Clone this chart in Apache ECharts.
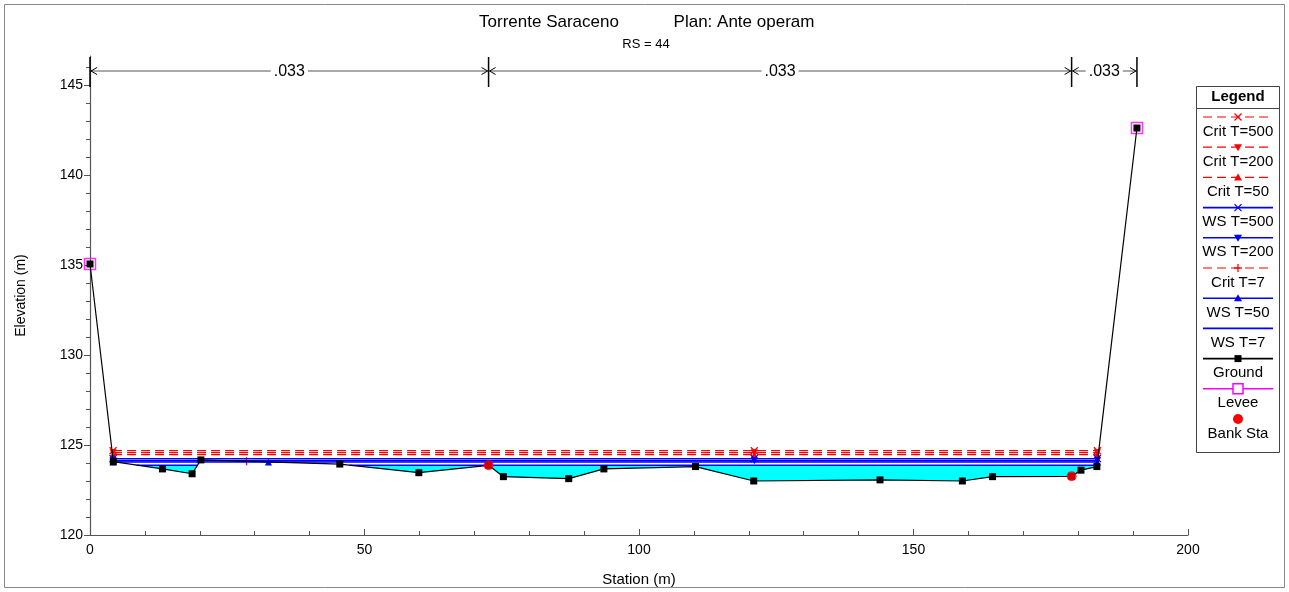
<!DOCTYPE html>
<html><head><meta charset="utf-8">
<script src="https://cdn.jsdelivr.net/npm/echarts@6/dist/echarts.min.js"></script>
<style>html,body{margin:0;padding:0;background:#fff}#c{width:1289px;height:592px}</style>
</head><body><div id="c"></div>
<script>
// ---------- data ----------
const groundSta  = [0, 4.25, 13.2, 18.6, 20.2, 45.5, 59.9, 72.6, 75.3, 87.2, 93.6, 110.3, 120.9, 143.9, 158.9, 164.4, 178.8, 180.5, 183.4, 190.7];
const groundElev = [135.05, 124.07, 123.67, 123.4, 124.17, 123.94, 123.46, 123.87, 123.24, 123.13, 123.67, 123.8, 123.0, 123.06, 123.0, 123.24, 123.26, 123.6, 123.8, 142.6];
const leveeSta  = [0, 190.7];
const leveeElev = [135.05, 142.6];
const bankSta  = [72.6, 178.8];
const bankElev = [123.87, 123.26];
const profileNames = ['Crit T=500', 'Crit T=200', 'Crit T=50', 'WS T=500', 'WS T=200', 'Crit T=7', 'WS T=50', 'WS T=7'];
const profileElev  = [124.68, 124.57, 124.46, 124.24, 124.13, 124.09, 124.06, 123.88];
const profileExtent = [
  [4.2, 183.5], [4.2, 183.5], [4.2, 183.5], [4.2, 183.5], [4.2, 183.5],
  [27.9, 30.4], [4.2, 183.5], []
];
const profileMarkerSta = [
  [4.2, 121, 183.5],
  [4.2, 121, 183.5],
  [4.2, 121, 183.5],
  [4.2, 121, 183.5],
  [4.2, 121, 183.5],
  [28.5],
  [4.2, 32.5, 183.5],
  []
];
const nBreakSta = [0, 72.6, 178.8, 190.7];
const nValues   = ['.033', '.033', '.033'];
const yTicks = [120, 125, 130, 135, 140, 145];
const yMinorTicks = [121,122,123,124,126,127,128,129,131,132,133,134,136,137,138,139,141,142,143,144,146];
const titleMain = 'Torrente Saraceno';
const titlePlan = 'Plan: Ante operam';
const subTitle = 'RS = 44';

// ---------- styles ----------
const FONT = '"Liberation Sans", Arial, sans-serif';
const RED = '#ff0000', BLUE = '#0000ff';
const styleOf = {
  'Crit T=500': {c: RED, dash: true, m: 'x'},
  'Crit T=200': {c: RED, dash: true, m: 'tdown'},
  'Crit T=50':  {c: RED, dash: true, m: 'tup'},
  'WS T=500':   {c: BLUE, dash: false, m: 'x'},
  'WS T=200':   {c: BLUE, dash: false, m: 'tdown'},
  'Crit T=7':   {c: RED, dash: true, m: 'plus'},
  'WS T=50':    {c: BLUE, dash: false, m: 'tup'},
  'WS T=7':     {c: BLUE, dash: false, m: null},
  'Ground':     {c: '#000', dash: false, m: 'sq', line: true},
  'Levee':      {c: '#ff00ff', dash: false, m: 'esq', line: true},
  'Bank Sta':   {c: RED, dash: false, m: 'circle', line: false}
};
const symbolOf = {
  x: {symbol: 'path://M0,0L10,10M10,0L0,10', rot: 0, size: 7},
  tdown: {symbol: 'triangle', rot: 180, size: 7},
  tup: {symbol: 'triangle', rot: 0, size: 7},
  plus: {symbol: 'path://M5,0L5,10M0,5L10,5', rot: 0, size: 8}
};

// ---------- wetted area of the lowest profile ----------
function wetted(sta, elev, ws) {
  const pts = [], segs = [];
  let start = null;
  for (let i = 0; i < sta.length; i++) {
    if (i > 0) {
      const x0 = sta[i-1], g0 = elev[i-1], x1 = sta[i], g1 = elev[i];
      if ((g0 - ws) * (g1 - ws) < 0) {
        const xc = x0 + (ws - g0) / (g1 - g0) * (x1 - x0);
        pts.push([xc, ws]);
        if (g1 < ws) start = xc; else { segs.push([start, xc]); start = null; }
      }
    }
    pts.push([sta[i], Math.min(elev[i], ws)]);
  }
  return {pts, segs};
}
const wsLow = profileElev[profileNames.indexOf('WS T=7')];
const wet = wetted(groundSta, groundElev, wsLow);

// ---------- series ----------
const series = [];
series.push({
  type: 'custom', z: 1, silent: true, clip: false,
  data: [[0, wsLow]],
  renderItem: function (params, api) {
    const poly = wet.pts.map(p => api.coord(p));
    const children = [{type: 'polygon', shape: {points: poly}, style: {fill: '#00ffff', stroke: null}}];
    wet.segs.forEach(s => {
      const a = api.coord([s[0], wsLow]), b = api.coord([s[1], wsLow]);
      children.push({type: 'line', shape: {x1: a[0], y1: a[1], x2: b[0], y2: b[1]}, style: {stroke: BLUE, lineWidth: 1.5}});
    });
    return {type: 'group', children};
  }
});
profileNames.forEach((name, i) => {
  if (name === 'WS T=7') return;
  const st = styleOf[name];
  const sym = symbolOf[st.m];
  const stations = Array.from(new Set(profileExtent[i].concat(profileMarkerSta[i]))).sort((a, b) => a - b);
  series.push({
    type: 'line', name, z: st.dash ? 2 : 3, silent: true,
    data: stations.map(s => ({
      value: [s, profileElev[i]],
      symbol: profileMarkerSta[i].indexOf(s) >= 0 ? sym.symbol : 'none'
    })),
    symbol: sym.symbol, symbolRotate: sym.rot, symbolSize: sym.size, showSymbol: true,
    lineStyle: {color: st.c, width: st.dash ? 1.2 : 1.5, type: st.dash ? [9, 5] : 'solid'},
    itemStyle: {color: st.c, borderColor: st.c, borderWidth: st.m === 'x' || st.m === 'plus' ? 1.3 : 0}
  });
});
series.push({
  type: 'scatter', name: 'Levee', z: 4, silent: true,
  data: leveeSta.map((s, i) => [s, leveeElev[i]]),
  symbol: 'rect', symbolSize: 11,
  itemStyle: {color: 'rgba(0,0,0,0)', borderColor: '#ff00ff', borderWidth: 1.5}
});
series.push({
  type: 'line', name: 'Ground', z: 5, silent: true,
  data: groundSta.map((s, i) => [s, groundElev[i]]),
  symbol: 'rect', symbolSize: 7, showSymbol: true,
  lineStyle: {color: '#000', width: 1.2},
  itemStyle: {color: '#000'}
});
series.push({
  type: 'scatter', name: 'Bank Sta', z: 6, silent: true,
  data: bankSta.map((s, i) => [s, bankElev[i]]),
  symbol: 'circle', symbolSize: 10,
  itemStyle: {color: RED}
});
// Manning's n overlay along the top of the plot
series.push({
  type: 'custom', z: 7, silent: true, clip: false,
  data: nValues.map((v, i) => [nBreakSta[i], nBreakSta[i+1], 130]),
  renderItem: function (params, api) {
    const cs = params.coordSys;
    const x1 = api.coord([api.value(0), 130])[0];
    const x2 = api.coord([api.value(1), 130])[0];
    const y = cs.y + 15, yt = cs.y + 1, yb = cs.y + 31;
    const idx = params.dataIndex;
    const ch = [
      {type: 'line', shape: {x1: x1, y1: y, x2: x2, y2: y}, style: {stroke: '#555', lineWidth: 1}},
      {type: 'polyline', shape: {points: [[x1 + 7, y - 3.5], [x1 + 1, y], [x1 + 7, y + 3.5]]}, style: {stroke: '#000', fill: null, lineWidth: 1}},
      {type: 'polyline', shape: {points: [[x2 - 7, y - 3.5], [x2 - 1, y], [x2 - 7, y + 3.5]]}, style: {stroke: '#000', fill: null, lineWidth: 1}},
      {type: 'line', shape: {x1: x2, y1: yt, x2: x2, y2: yb}, style: {stroke: '#000', lineWidth: 1.5}},
      {type: 'text', x: (x1 + x2) / 2, y: y + 1, style: {text: nValues[idx], fill: '#000', font: '16px ' + FONT, align: 'center', verticalAlign: 'middle', textAlign: 'center', textVerticalAlign: 'middle', backgroundColor: '#fff', padding: [0, 3]}}
    ];
    if (idx === 0) ch.push({type: 'line', shape: {x1: x1, y1: yt, x2: x1, y2: yb}, style: {stroke: '#000', lineWidth: 1.5}});
    return {type: 'group', children: ch};
  }
});

// ---------- legend box (drawn as graphics) ----------
const legendNames = ['Crit T=500', 'Crit T=200', 'Crit T=50', 'WS T=500', 'WS T=200', 'Crit T=7', 'WS T=50', 'WS T=7', 'Ground', 'Levee', 'Bank Sta'];
function markerEl(m, cx, cy, c) {
  switch (m) {
    case 'x': return {type: 'group', children: [
      {type: 'line', shape: {x1: cx - 3.5, y1: cy - 3.5, x2: cx + 3.5, y2: cy + 3.5}, style: {stroke: c, lineWidth: 1.3}},
      {type: 'line', shape: {x1: cx + 3.5, y1: cy - 3.5, x2: cx - 3.5, y2: cy + 3.5}, style: {stroke: c, lineWidth: 1.3}}]};
    case 'plus': return {type: 'group', children: [
      {type: 'line', shape: {x1: cx, y1: cy - 4, x2: cx, y2: cy + 4}, style: {stroke: c, lineWidth: 1.3}},
      {type: 'line', shape: {x1: cx - 4, y1: cy, x2: cx + 4, y2: cy}, style: {stroke: c, lineWidth: 1.3}}]};
    case 'tup': return {type: 'polygon', shape: {points: [[cx, cy - 4], [cx - 4, cy + 3], [cx + 4, cy + 3]]}, style: {fill: c}};
    case 'tdown': return {type: 'polygon', shape: {points: [[cx - 4, cy - 3], [cx + 4, cy - 3], [cx, cy + 4]]}, style: {fill: c}};
    case 'sq': return {type: 'rect', shape: {x: cx - 3.5, y: cy - 3.5, width: 7, height: 7}, style: {fill: c}};
    case 'esq': return {type: 'rect', shape: {x: cx - 5, y: cy - 5, width: 10, height: 10}, style: {fill: '#fff', stroke: c, lineWidth: 1.5}};
    case 'circle': return {type: 'circle', shape: {cx: cx, cy: cy, r: 5}, style: {fill: c}};
  }
  return null;
}
const LX = 1196, LY = 86, LW = 83, LH = 366;
const graphic = [
  {type: 'rect', shape: {x: 4.5, y: 4.5, width: 1280, height: 583}, style: {fill: null, stroke: '#888', lineWidth: 1}, z: 100},
  {type: 'text', x: 549, y: 22, style: {text: titleMain, font: '17px ' + FONT, fill: '#000', align: 'center', verticalAlign: 'middle', textAlign: 'center', textVerticalAlign: 'middle'}},
  {type: 'text', x: 744, y: 22, style: {text: titlePlan, font: '17px ' + FONT, fill: '#000', align: 'center', verticalAlign: 'middle', textAlign: 'center', textVerticalAlign: 'middle'}},
  {type: 'text', x: 646, y: 44, style: {text: subTitle, font: '13px ' + FONT, fill: '#000', align: 'center', verticalAlign: 'middle', textAlign: 'center', textVerticalAlign: 'middle'}},
  {type: 'rect', shape: {x: LX + 0.5, y: LY + 0.5, width: LW, height: LH}, style: {fill: '#fff', stroke: '#444', lineWidth: 1}},
  {type: 'line', shape: {x1: LX, y1: LY + 22.5, x2: LX + LW + 1, y2: LY + 22.5}, style: {stroke: '#444', lineWidth: 1}},
  {type: 'text', x: LX + LW / 2 + 0.5, y: LY + 11, style: {text: 'Legend', font: 'bold 15px ' + FONT, fill: '#000', align: 'center', verticalAlign: 'middle', textAlign: 'center', textVerticalAlign: 'middle'}}
];
legendNames.forEach((name, i) => {
  const st = styleOf[name];
  const ly = LY + 31 + i * 30.2, ty = ly + 14.5;
  const cx = LX + LW / 2 + 0.5;
  if (st.line !== false) {
    graphic.push({type: 'line', shape: {x1: LX + 7, y1: ly, x2: LX + LW - 6, y2: ly},
      style: {stroke: st.c, lineWidth: st.dash ? 1.2 : 1.6, lineDash: st.dash ? [9, 5] : null}});
  }
  const mk = markerEl(st.m, cx, ly, st.c);
  if (mk) graphic.push(mk);
  graphic.push({type: 'text', x: cx, y: ty, style: {text: name, font: '15px ' + FONT, fill: '#000', align: 'center', verticalAlign: 'middle', textAlign: 'center', textVerticalAlign: 'middle'}});
});

const chart = echarts.init(document.getElementById('c'));
chart.setOption({
  animation: false,
  backgroundColor: '#fff',
  grid: {left: 90, right: 101, top: 56, bottom: 57, containLabel: false},
  xAxis: {
    type: 'value', min: 0, max: 200, interval: 50,
    name: 'Station (m)', nameLocation: 'middle', nameGap: 37,
    nameTextStyle: {fontFamily: FONT, fontSize: 15, color: '#000'},
    axisLine: {lineStyle: {color: '#555', width: 1.2}},
    axisTick: {inside: true, length: 6, lineStyle: {color: '#555'}},
    minorTick: {show: true, splitNumber: 5, length: 4, lineStyle: {color: '#555'}},
    axisLabel: {fontFamily: FONT, fontSize: 14, color: '#000', margin: 8},
    splitLine: {show: false}
  },
  yAxis: [{
    type: 'value', min: 120, max: 146.6, interval: 5, position: 'left',
    name: 'Elevation (m)', nameLocation: 'middle', nameGap: 62,
    nameTextStyle: {fontFamily: FONT, fontSize: 14, color: '#000'},
    axisLine: {show: true, lineStyle: {color: '#555', width: 1.2}},
    axisTick: {show: true, inside: false, length: 6, customValues: yTicks, lineStyle: {color: '#555'}},
    axisLabel: {fontFamily: FONT, fontSize: 14, color: '#000', margin: 7, customValues: yTicks,
      formatter: v => (v % 5 === 0 ? String(v) : '')},
    splitLine: {show: false}
  }, {
    type: 'value', min: 120, max: 146.6, interval: 1, position: 'left', offset: 0,
    axisLine: {show: false},
    axisTick: {show: true, inside: false, length: 4, customValues: yMinorTicks, lineStyle: {color: '#555'}},
    axisLabel: {show: false},
    splitLine: {show: false}
  }],
  series: series,
  graphic: graphic
});
</script>
</body></html>
